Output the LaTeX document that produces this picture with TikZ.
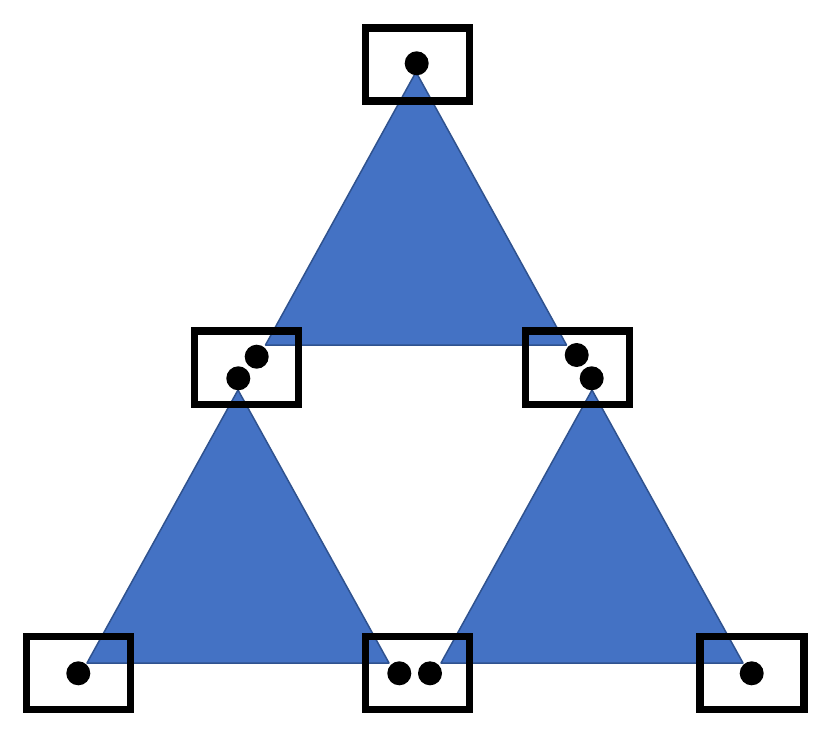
\documentclass[tikz,border=0pt]{standalone}
\definecolor{triblue}{HTML}{4472C4}
\definecolor{triedge}{HTML}{2F528F}
\begin{document}
\begin{tikzpicture}[x=1pt,y=-1pt,
  tri/.style={fill=triblue, draw=triedge, line width=1.5pt, line join=round},
  box/.style={rectangle, draw=black, line width=7.5pt, minimum width=104pt, minimum height=73.4pt, inner sep=0pt},
  dot/.style={circle, fill=black, minimum size=24pt, inner sep=0pt}]
\useasboundingbox (0,0) rectangle (831,736);
% triangle vertices
\coordinate (tA) at (416,72);   \coordinate (tL) at (265.5,345); \coordinate (tR) at (566.5,345);
\coordinate (lA) at (238,390);  \coordinate (lL) at (87,663);    \coordinate (lR) at (389,663);
\coordinate (rA) at (592,390);  \coordinate (rL) at (441,663);   \coordinate (rR) at (743,663);
\draw[tri] (tA) -- (tL) -- (tR) -- cycle;
\draw[tri] (lA) -- (lL) -- (lR) -- cycle;
\draw[tri] (rA) -- (rL) -- (rR) -- cycle;
% boxes
\node[box] (btop) at (417.6,64.5) {};
\node[box] (bml) at (246.3,367.8) {};
\node[box] (bmr) at (577.6,367.8) {};
\node[box] (bbl) at (78.3,673) {};
\node[box] (bbm) at (417.6,673) {};
\node[box] (bbr) at (752,673) {};
% dots
\node[dot] (d1) at (416.7,63.3) {};
\node[dot] (d2) at (256.7,356.7) {};
\node[dot] (d3) at (238.3,378.3) {};
\node[dot] (d4) at (576.7,355) {};
\node[dot] (d5) at (591.7,378.3) {};
\node[dot] (d6) at (78.3,673.3) {};
\node[dot] (d7) at (399.3,673.3) {};
\node[dot] (d8) at (430,673.3) {};
\node[dot] (d9) at (751.7,673.3) {};
\end{tikzpicture}
\end{document}
